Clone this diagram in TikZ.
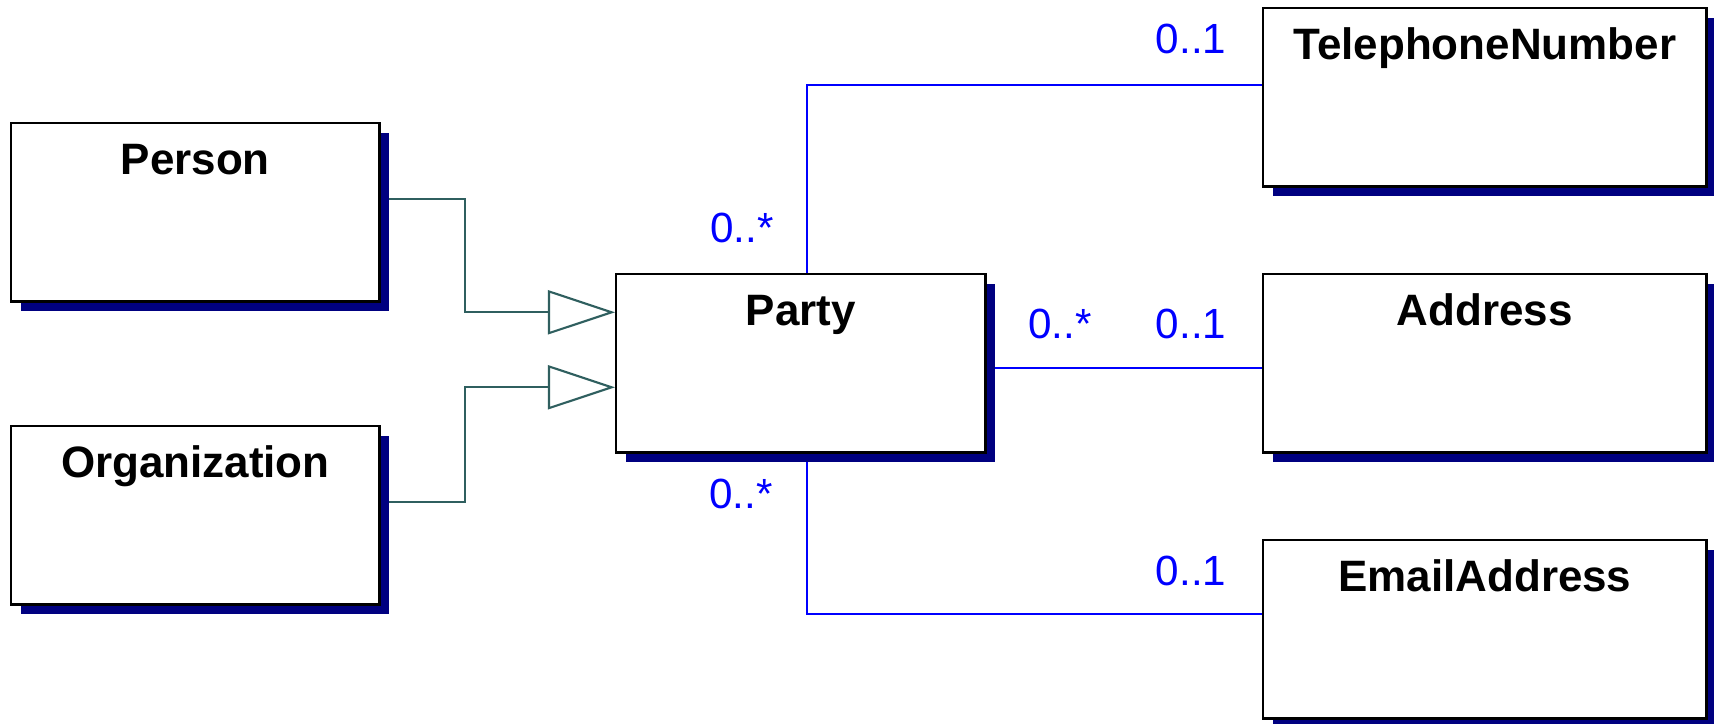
\documentclass[tikz,border=0pt]{standalone}
\usepackage{fontspec}
\setmainfont{Liberation Sans}
\usetikzlibrary{positioning, calc, arrows.meta, shadows, backgrounds}
\definecolor{umlNavy}{HTML}{000080}
\definecolor{umlBlue}{HTML}{0000FF}
\definecolor{umlTeal}{HTML}{2F5F5F}

\begin{document}
\begin{tikzpicture}[x=0.01cm, y=-0.01cm,
    cls/.style={draw, fill=white, line width=0.7pt, anchor=north west, inner sep=0pt,
        text height=0.51cm, text depth=1.27cm, font=\fontsize{12.5}{15}\selectfont\bfseries,
        drop shadow={shadow xshift=0.1cm, shadow yshift=-0.1cm, fill=umlNavy, opacity=1}},
    mult/.style={text=umlBlue, inner sep=0pt, font=\fontsize{12}{14}\selectfont},
    gen/.style={-{Triangle[open, length=0.67cm, width=0.44cm]}, umlTeal, line width=0.6pt},
    assoc/.style={umlBlue, line width=0.6pt},
]
\useasboundingbox (0,0) rectangle (1714,724);

\node[cls, minimum width=3.68cm] (person) at (10,122) {Person};
\node[cls, minimum width=3.68cm] (org)    at (10,425) {Organization};
\node[cls, minimum width=3.69cm] (party)  at (615,273) {Party};
\node[cls, minimum width=4.43cm] (tel)    at (1262,7)   {TelephoneNumber};
\node[cls, minimum width=4.43cm] (addr)   at (1262,273) {Address};
\node[cls, minimum width=4.43cm] (email)  at (1262,539) {EmailAddress};

\begin{pgfonlayer}{background}
\draw[gen] ($(person.east)+(0,-13)$) -| ($(party.west)+(-150,-51)$) -- ($(party.west)+(0,-51)$);
\draw[gen] ($(org.east)+(0,-13)$) -| ($(party.west)+(-150,24)$) -- ($(party.west)+(0,24)$);
\draw[assoc] ($(party.north)+(6,0)$) |- ($(tel.west)+(0,-12)$);
\draw[assoc] ($(party.east)+(0,5)$) -- ($(addr.west)+(0,5)$);
\draw[assoc] ($(party.south)+(6,0)$) |- ($(email.west)+(0,-15)$);
\end{pgfonlayer}

\node[mult] (mTelParty)   at (742,228)  {0..*};
\node[mult] (mTel)        at (1191,39)  {0..1};
\node[mult] (mAddrParty)  at (1060,324) {0..*};
\node[mult] (mAddr)       at (1191,324) {0..1};
\node[mult] (mEmailParty) at (741,494)  {0..*};
\node[mult] (mEmail)      at (1191,571) {0..1};
\end{tikzpicture}
\end{document}
